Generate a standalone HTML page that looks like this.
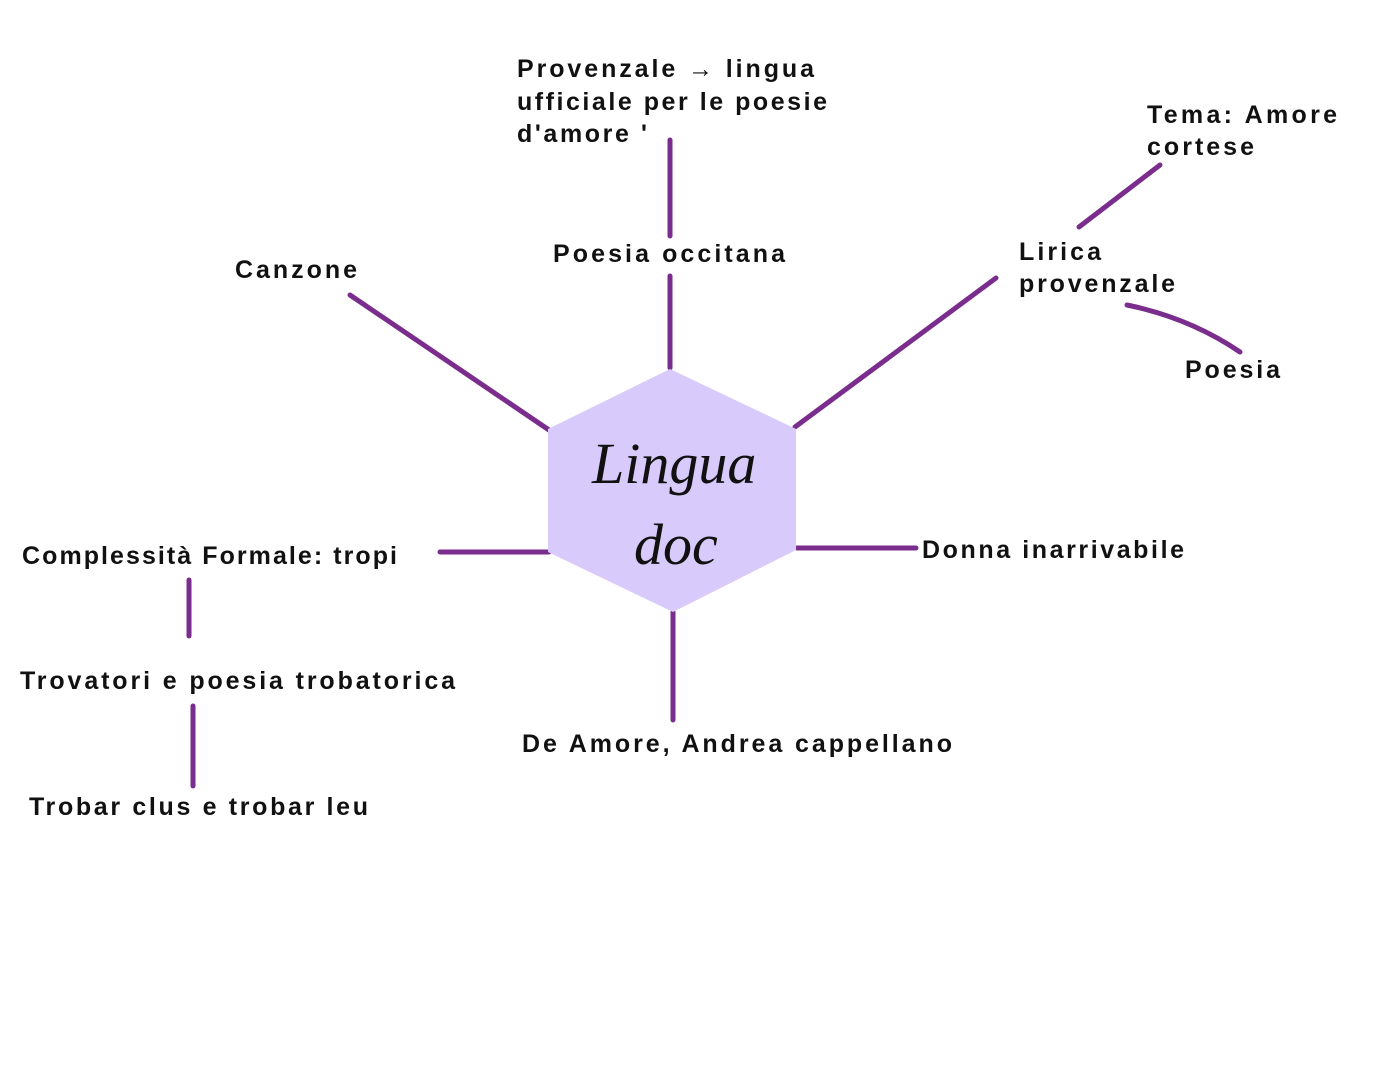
<!DOCTYPE html>
<html><head><meta charset="utf-8"><style>
html,body{margin:0;padding:0;background:#fff;width:1394px;height:1080px;overflow:hidden}
text{font-family:"Liberation Sans",sans-serif;font-weight:bold;font-size:25px;fill:#111}
</style></head><body>
<svg width="1394" height="1080" viewBox="0 0 1394 1080" xmlns="http://www.w3.org/2000/svg">
<g stroke="#7a2d8c" stroke-width="5" stroke-linecap="round" fill="none">
<line x1="670" y1="140" x2="670" y2="236"/>
<line x1="670" y1="276" x2="670" y2="368"/>
<line x1="350" y1="295" x2="549" y2="430"/>
<line x1="996" y1="278" x2="795" y2="427"/>
<line x1="1160" y1="165" x2="1079" y2="227"/>
<path d="M1127 305 Q1190 318 1240 352"/>
<line x1="440" y1="552" x2="549" y2="552"/>
<line x1="797" y1="548" x2="916" y2="548"/>
<line x1="673" y1="612" x2="673" y2="720"/>
<line x1="189" y1="580" x2="189" y2="636"/>
<line x1="193" y1="706" x2="193" y2="786"/>
</g>
<polygon points="670,369 796,429 796,550 673,612 548,552 548,429" fill="#d8cbfb"/>
<text x="592" y="483" style="font-family:'Liberation Serif',serif;font-style:italic;font-weight:normal;font-size:58px">Lingua</text>
<text x="634" y="564" style="font-family:'Liberation Serif',serif;font-style:italic;font-weight:normal;font-size:58px">doc</text>
<text x="517" y="77" textLength="297">Provenzale → lingua</text>
<text x="517" y="110" textLength="310">ufficiale per le poesie</text>
<text x="517" y="142" textLength="130">d'amore '</text>
<text x="553" y="262" textLength="232">Poesia occitana</text>
<text x="235" y="278" textLength="122">Canzone</text>
<text x="1147" y="123" textLength="190">Tema: Amore</text>
<text x="1147" y="155" textLength="107">cortese</text>
<text x="1019" y="260" textLength="82">Lirica</text>
<text x="1019" y="292" textLength="156">provenzale</text>
<text x="1185" y="378" textLength="95">Poesia</text>
<text x="22" y="564" textLength="375">Complessità Formale: tropi</text>
<text x="922" y="558" textLength="262">Donna inarrivabile</text>
<text x="20" y="689" textLength="435">Trovatori e poesia trobatorica</text>
<text x="522" y="752" textLength="430">De Amore, Andrea cappellano</text>
<text x="29" y="815" textLength="339">Trobar clus e trobar leu</text>
</svg>
</body></html>
